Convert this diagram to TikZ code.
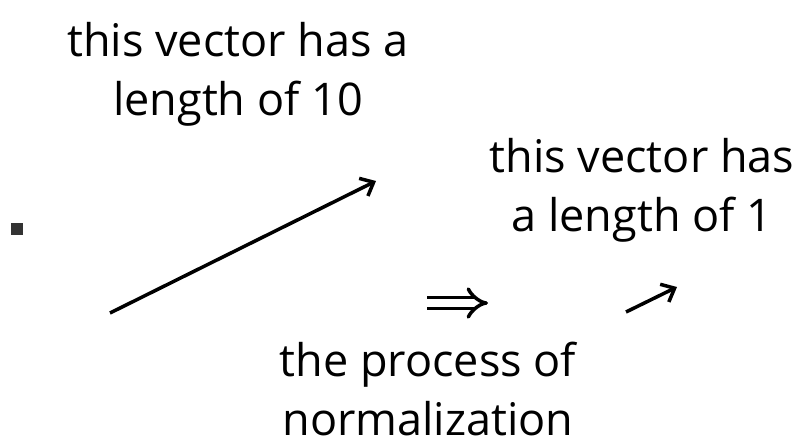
\documentclass[tikz,border=0pt]{standalone}
\usepackage{fontspec}
\setmainfont{Open Sans}
\usetikzlibrary{arrows.meta,positioning}

\begin{document}
\begin{tikzpicture}[x=0.025cm, y=-0.025cm, font=\fontsize{32}{42}\selectfont,
  note/.style={align=center, inner sep=0pt},
  vec/.style={line width=2.5pt, -{Straight Barb[length=8pt, width=14pt]}}]
  \useasboundingbox (0,0) rectangle (800,447);
  % the vectors
  \coordinate (big tail) at (110,313);
  \coordinate (big head) at (376,181);
  \coordinate (unit tail) at (626,312);
  \coordinate (unit head) at (677,287);
  \coordinate (step tail) at (427,303);
  \coordinate (step head) at (488,303);
  \node[fill=black!80, minimum size=9pt, inner sep=0pt] (dot) at (17,229) {};
  \node[note] (long) at (238,74) {this vector has a\\length of 10};
  \node[note] (unit) at (642,190) {this vector has\\a length of 1};
  \node[note] (proc) at (428,389) {the process of\\normalization};
  \draw[vec] (big tail) -- (big head);
  \draw[vec] (unit tail) -- (unit head);
  \draw[line width=2.5pt, double, double distance=5pt, -{Implies}] (step tail) -- (step head);
\end{tikzpicture}
\end{document}
